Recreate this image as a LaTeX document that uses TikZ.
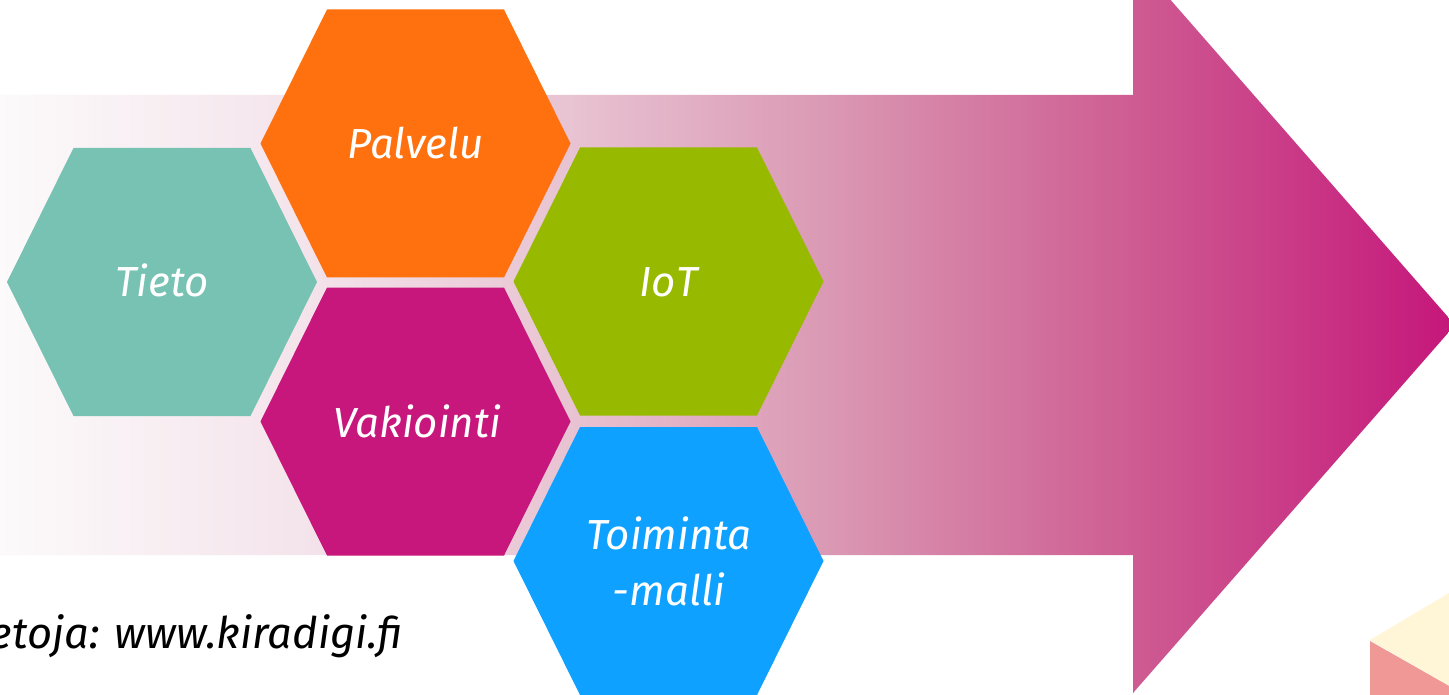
\documentclass[tikz,border=0pt]{standalone}
\usepackage{fontspec}
\setmainfont{Fira Sans}
\definecolor{tietoc}{RGB}{120,194,179}
\definecolor{palveluc}{RGB}{255,112,15}
\definecolor{vakioc}{RGB}{200,23,124}
\definecolor{iotc}{RGB}{151,185,0}
\definecolor{toimc}{RGB}{14,161,255}
\definecolor{gA}{RGB}{252,250,251}
\definecolor{gB}{RGB}{244,228,235}
\definecolor{gC}{RGB}{232,195,210}
\definecolor{gD}{RGB}{218,152,179}
\definecolor{gE}{RGB}{206,92,146}
\definecolor{gF}{RGB}{197,22,122}
\definecolor{creamc}{RGB}{255,246,216}
\definecolor{pinkc}{RGB}{240,152,150}
\newcommand\hexcell[4]{%
  \fill[#4] (#2-155,#3) -- (#2-88.5,#3-134) -- (#2+88.5,#3-134) -- (#2+155,#3) -- (#2+88.5,#3+134) -- (#2-88.5,#3+134) -- cycle;}
\tikzset{
  hexlabel/.style={text=white, font=\fontsize{42}{56}\selectfont\itshape, inner sep=0pt},
  notelabel/.style={text=black, font=\fontsize{43.5}{56}\selectfont\itshape, inner sep=0pt}
}
\begin{document}
\begin{tikzpicture}[x=1pt,y=-1pt]
\useasboundingbox (0,0) rectangle (1449,695);
\clip (0,0) rectangle (1449,695);
\fill[white] (0,0) rectangle (1449,695);
% gradient arrow
\begin{scope}
  \clip (0,95) -- (1133,95) -- (1133,-43) -- (1455,325) -- (1133,693) -- (1133,555) -- (0,555) -- cycle;
  \shade[left color=gA, right color=gB] (-1,-50) rectangle (301,700);
  \shade[left color=gB, right color=gC] (300,-50) rectangle (571,700);
  \shade[left color=gC, right color=gD] (570,-50) rectangle (831,700);
  \shade[left color=gD, right color=gE] (830,-50) rectangle (1134,700);
  \shade[left color=gE, right color=gF] (1133,-50) rectangle (1456,700);
\end{scope}
% corner cube
\fill[creamc] (1370,640) -- (1449,593) -- (1449,686) -- cycle;
\fill[pinkc] (1370,641) -- (1449,686) -- (1449,695) -- (1370,695) -- cycle;
% hexagons
\hexcell{tieto}{162}{282}{tietoc}
\hexcell{palvelu}{415.5}{143.5}{palveluc}
\hexcell{vakiointi}{415.5}{421.5}{vakioc}
\hexcell{iot}{668.5}{281.5}{iotc}
\hexcell{toiminta}{668.5}{561}{toimc}
\node[hexlabel, anchor=base] (tietot) at (162,297) {Tieto};
\node[hexlabel, anchor=base] (palvelut) at (415.5,159) {Palvelu};
\node[hexlabel, anchor=base] (vakiointit) at (417,437) {Vakiointi};
\node[hexlabel, anchor=base] (iott) at (668.5,297) {IoT};
\node[hexlabel, anchor=center, align=center] (toimintat) at (669,561) {Toiminta\\-malli};
% note
\node[notelabel, anchor=base east] (note) at (403,648) {etoja: www.kiradigi.fi};
\end{tikzpicture}
\end{document}
